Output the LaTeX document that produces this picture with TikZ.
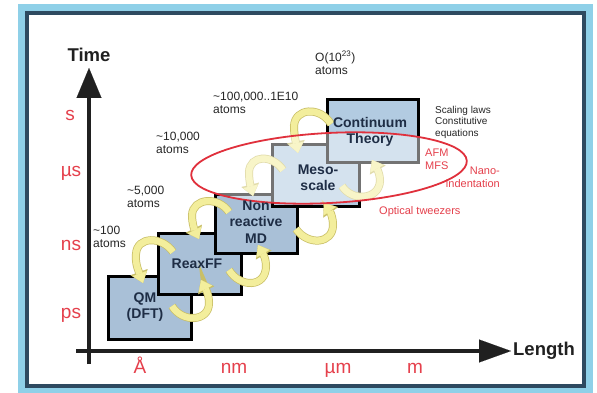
\documentclass[tikz,border=0pt]{standalone}
\usepackage{fontspec}
\setmainfont{Liberation Sans}
\usetikzlibrary{arrows.meta}
\definecolor{framelight}{HTML}{8FD0E8}
\definecolor{framedark}{HTML}{2E4A60}
\definecolor{boxblue}{HTML}{A9C0D7}
\definecolor{boxlight}{HTML}{B2CBE1}
\definecolor{tickred}{HTML}{E5404C}
\definecolor{navy}{HTML}{1E2D45}
\definecolor{yfill}{HTML}{F3EE9C}
\definecolor{yedge}{HTML}{C9BF66}
\definecolor{axisgray}{HTML}{202020}
\definecolor{ellred}{HTML}{E0303C}
\tikzset{
  boxnode/.style={draw=black, line width=2.6pt, fill=boxblue, inner sep=0pt, anchor=north west},
  boxlabel/.style={text=navy, align=center, inner sep=0pt, font=\fontsize{14}{16.5}\selectfont\bfseries},
  ticklab/.style={text=tickred, inner sep=0pt, anchor=base, font=\fontsize{19}{21}\selectfont},
  axislab/.style={text=axisgray, inner sep=0pt, font=\fontsize{18.5}{20}\selectfont\bfseries},
  axisline/.style={draw=axisgray, line width=4.6pt},
  atomlab/.style={text=black!85, align=left, anchor=north west, inner sep=0pt, font=\fontsize{12}{13}\selectfont},
  smalllab/.style={text=black!85, align=left, anchor=north west, inner sep=0pt, font=\fontsize{10}{11.5}\selectfont},
  redlab/.style={text=tickred, inner sep=0pt, font=\fontsize{11}{12.5}\selectfont},
  yarr/.style={draw=yfill, line width=6.5pt, line cap=butt,
    -{Triangle[width=15pt,length=10pt,line width=0.1pt]},
    preaction={draw=yedge, line width=8pt, -{Triangle[width=18pt,length=11.5pt,line width=0.1pt]}}}
}
\begin{document}
\begin{tikzpicture}[x=1pt,y=-1pt]
\useasboundingbox (0,0) rectangle (597,393);
\fill[white] (0,0) rectangle (597,393);
\fill[framelight] (18,4) rectangle (593,393);
\draw[framedark, line width=3.5pt, fill=white] (27,13) rectangle (584,386);

% axes
\coordinate (yorig) at (89,364);
\coordinate (ytip) at (89,68);
\coordinate (xorig) at (76,351);
\coordinate (xtip) at (511,351);
\draw[axisline, -{Triangle[width=25pt,length=30pt,line width=0.1pt]}] (yorig) -- (ytip);
\draw[axisline, -{Triangle[width=23pt,length=32pt,line width=0.1pt]}] (xorig) -- (xtip);
\node[axislab] (time) at (89,55) {Time};
\node[axislab] (length) at (544,351) {Length};

% tick labels
\node[ticklab] (ts) at (70,121) {s};
\node[ticklab] (tus) at (71,176) {µs};
\node[ticklab] (tns) at (71,250) {ns};
\node[ticklab] (tps) at (71,318) {ps};
\node[ticklab] (tA) at (140,373) {Å};
\node[ticklab] (tnm) at (234,373) {nm};
\node[ticklab] (tum) at (338,373) {µm};
\node[ticklab] (tm) at (415,373) {m};

% boxes
\node[boxnode, minimum width=83pt, minimum height=63pt] (qm) at (107,275) {};
\node[boxnode, minimum width=83pt, minimum height=61pt] (reax) at (157,232) {};
\node[boxnode, minimum width=82pt, minimum height=59pt] (nmd) at (214,193) {};
\node[boxnode, fill=boxlight, minimum width=87pt, minimum height=62pt] (meso) at (271,143) {};
\node[boxnode, fill=boxlight, minimum width=91pt, minimum height=63pt] (cont) at (326,98) {};

% coupling arrows
\draw[yarr] (173,252) .. controls (162,236) and (137,236) .. (136,254) .. controls (135,264) and (139,272) .. (143,283);
\draw[yarr] (172,306) .. controls (182,323) and (209,322) .. (209,303) .. controls (209,294) and (205,288) .. (201,280);
\draw[yarr] (229,212) .. controls (218,196) and (193,198) .. (192,215) .. controls (192,224) and (195,231) .. (199,239);
\draw[yarr] (229,270) .. controls (240,288) and (266,288) .. (266,266) .. controls (266,258) and (262,252) .. (258,245);
\draw[yarr] (283,170) .. controls (272,154) and (250,155) .. (249,172) .. controls (249,181) and (251,188) .. (253,196);
\draw[yarr] (296,229) .. controls (308,246) and (333,244) .. (333,225) .. controls (333,216) and (329,210) .. (324,203);
\draw[yarr] (331,124) .. controls (320,106) and (295,108) .. (294,126) .. controls (294,135) and (296,143) .. (298,153);
\draw[yarr] (342,186) .. controls (352,202) and (379,200) .. (380,181) .. controls (380,173) and (376,167) .. (372,160);

% ellipse
\path[draw=ellred, line width=1.8pt, fill=white, fill opacity=0.45, rotate around={3:(329,168)}]
  (329,168) ellipse [x radius=138pt, y radius=35pt];

% box labels
\node[boxlabel] (qmlab) at (145,307) {QM\\(DFT)};
\node[boxlabel] (reaxlab) at (197,264) {ReaxFF};
\node[boxlabel] (nmdlab) at (256,222) {Non\\reactive\\MD};
\node[boxlabel] (mesolab) at (318,178) {Meso-\\scale};
\node[boxlabel] (contlab) at (370,132) {Continuum\\Theory};

% atom counts
\node[atomlab] (a1) at (93,226) {\textasciitilde 100\\atoms};
\node[atomlab] (a2) at (127,186) {\textasciitilde 5,000\\atoms};
\node[atomlab] (a3) at (156,132) {\textasciitilde 10,000\\atoms};
\node[atomlab] (a4) at (213,92) {\textasciitilde 100,000..1E10\\atoms};
\node[atomlab] (a5) at (315,51) {O(10\textsuperscript{23})\\atoms};

% side notes
\node[smalllab] (scal) at (435,106) {Scaling laws\\Constitutive\\equations};
\node[redlab, align=left, anchor=north west] (afm) at (425,149) {AFM\\MFS};
\node[redlab, align=right, anchor=north east] (nano) at (500,167) {Nano-\\indentation};
\node[redlab, anchor=north west] (opt) at (379,206) {Optical tweezers};
\end{tikzpicture}
\end{document}
